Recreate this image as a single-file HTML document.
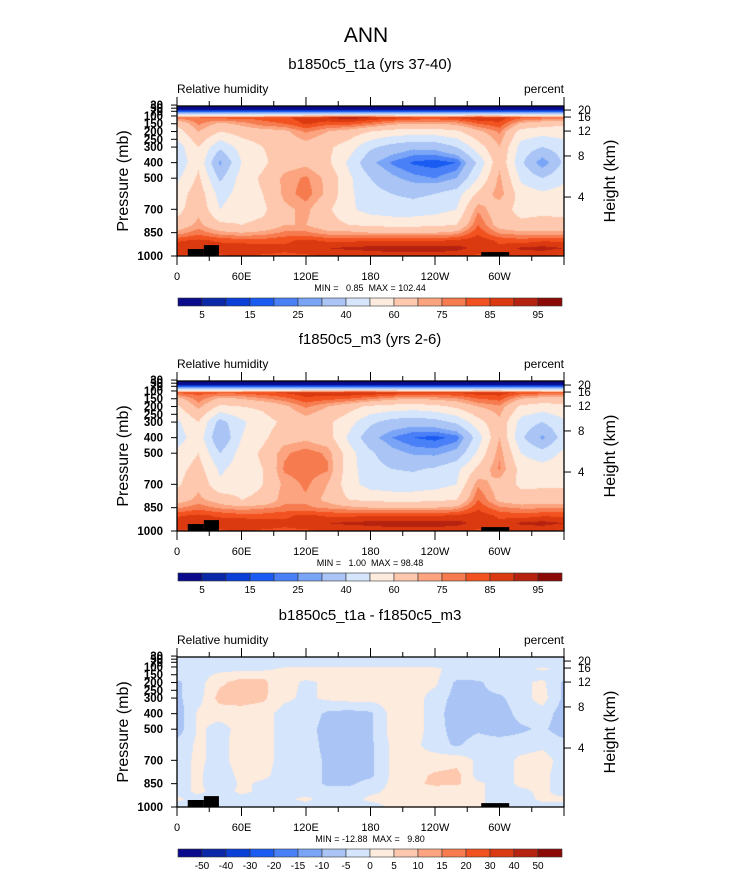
<!DOCTYPE html>
<html><head><meta charset="utf-8">
<style>
body{margin:0;background:#fff;}
#wrap{position:relative;width:733px;height:888px;overflow:hidden;background:#fff;font-family:"Liberation Sans",Arial,sans-serif;}
canvas{position:absolute;}
svg{position:absolute;left:0;top:0;}
text{font-family:"Liberation Sans",Arial,sans-serif;fill:#000;white-space:pre;}
</style></head>
<body>
<div id="wrap">
<svg id="ov" width="733" height="888"></svg>
</div>
<script>
// ---------- data ----------
const lons = [0,20,40,60,80,100,120,140,160,180,200,220,240,260,280,300,320,340,360];
const levels = [20,60,90,110,150,200,300,400,500,600,700,800,850,900,950,1000];
const rh1 = [
[3,3,3,3,3,3,3,3,3,3,3,3,3,3,3,3,3,3,3],
[4,4,4,4,4,4,4,4,4,4,4,4,4,4,4,4,4,4,4],
[45,45,45,45,45,45,45,45,45,45,45,45,45,45,45,45,45,45,45],
[78,80,82,82,82,84,88,90,93,90,88,85,84,86,90,88,82,80,78],
[62,76,68,72,78,80,86,82,82,78,72,70,70,72,80,84,68,64,62],
[55,70,60,64,66,68,76,70,66,60,56,55,55,58,68,76,56,54,55],
[45,60,42,54,60,64,66,62,55,42,36,32,33,40,55,70,46,40,45],
[42,58,28,50,58,66,68,62,48,32,24,19,17,20,42,68,42,25,42],
[48,62,38,54,62,72,76,68,52,40,32,27,25,30,50,72,48,40,48],
[54,66,46,54,60,72,78,68,52,44,40,38,40,45,62,74,55,52,54],
[56,68,50,56,58,68,72,62,52,46,44,44,46,50,74,64,57,57,56],
[64,72,62,60,62,70,70,64,60,58,57,57,58,60,80,66,62,64,64],
[72,78,72,70,72,76,76,72,72,70,70,70,70,72,84,74,72,72,72],
[84,86,84,82,82,84,86,84,84,84,84,84,84,86,88,84,82,84,84],
[90,88,88,90,88,86,88,90,91,92,93,93,93,92,88,86,91,92,90],
[84,84,84,86,84,84,84,86,86,86,87,87,87,86,84,84,86,86,84]];
const rh2 = [
[3,3,3,3,3,3,3,3,3,3,3,3,3,3,3,3,3,3,3],
[4,4,4,4,4,4,4,4,4,4,4,4,4,4,4,4,4,4,4],
[45,45,45,45,45,45,45,45,45,45,45,45,45,45,45,45,45,45,45],
[82,82,82,82,84,86,88,88,90,90,88,86,86,86,88,88,84,82,82],
[66,78,68,70,74,78,84,82,80,76,72,70,72,74,80,82,70,66,66],
[58,72,58,60,62,68,76,70,64,58,56,55,57,62,70,74,58,55,58],
[48,60,36,48,56,62,66,62,54,42,36,34,36,42,56,68,46,40,48],
[45,56,30,50,58,66,68,64,48,33,25,20,18,22,45,70,42,28,45],
[52,60,40,54,62,74,78,74,54,42,33,29,28,33,52,74,50,44,52],
[56,64,48,55,60,76,78,76,54,44,40,39,41,47,62,76,56,54,56],
[58,68,52,56,60,72,76,70,54,46,44,44,46,50,74,66,58,58,58],
[66,72,66,60,62,74,74,68,60,58,57,57,58,60,80,68,64,66,66],
[74,78,74,72,74,76,76,74,72,70,70,70,70,72,84,76,74,74,74],
[84,86,84,82,82,84,86,84,84,84,84,84,84,86,88,84,82,84,84],
[90,88,88,90,88,86,88,90,91,92,93,93,93,92,88,86,91,92,90],
[84,84,84,86,84,84,84,86,86,86,87,87,87,86,84,84,86,86,84]];
const rhDiff = [
[-2,-2,-2,-2,-2,-2,-2,-2,-2,-2,-2,-2,-2,-2,-2,-2,-2,-2,-2],
[-2,-2,-2,-2,-2,-2,-2,-2,-2,-2,-2,-2,-2,-2,-2,-2,-2,-2,-2],
[-2,-2,-2,-2,-2,-2,-2,-2,-2,-2,-2,-2,-2,-2,-2,-2,-2,-2,-2],
[-2,-2,-2,-2,-2,1,2,2,2,2,2,2,1,-2,-2,-2,-2,1,-2],
[-3,-2,1,3,4,3,2,2,2,2,2,2,1,-3,-2,-2,-2,-2,-3],
[-6,-2,4,7,6,2,-1,1,2,2,2,2,1,-6,-6,-2,-1,1,-6],
[-6,-2,7,7,6,1,-1,1,2,2,2,2,-2,-7,-6,-6,-2,2,-6],
[-8,1,2,3,2,-2,-2,-6,-7,-6,2,2,-2,-9,-7,-8,-3,-2,-8],
[-8,1,-2,2,2,-2,-3,-7,-7,-6,2,2,-2,-8,-6,-8,-6,-4,-8],
[-3,1,-2,3,2,-2,-2,-7,-7,-6,1,1,-2,-6,-2,-2,-2,-1,-3],
[-2,1,-2,3,2,-2,-2,-6,-6,-6,1,1,2,3,-1,-2,1,2,-2],
[-2,1,-4,2,1,-2,-2,-6,-7,-6,1,3,6,7,-2,-2,1,1,-2],
[-2,1,-4,1,-1,-2,-2,-6,-6,-3,1,4,6,6,1,-2,1,1,-2],
[-2,1,-2,1,-1,-2,-2,-3,-3,-1,1,2,2,1,1,-2,-1,1,-2],
[1,-2,-2,-2,-2,-1,1,-2,-2,1,1,1,2,1,1,-2,-2,1,1],
[-2,-2,-2,-2,-2,-2,-2,-2,-2,-2,1,1,1,1,1,-2,-2,-2,-2]];
const rhLevels = [5,10,15,20,25,30,40,50,60,70,75,80,85,90,95];
const rhLabels = ["5","15","25","40","60","75","85","95"];
const diffLevels = [-50,-40,-30,-20,-15,-10,-5,0,5,10,15,20,30,40,50];
const diffLabels = ["-50","-40","-30","-20","-15","-10","-5","0","5","10","15","20","30","40","50"];
const palette = ["#0a0a8c","#0a28a8","#0a3fd8","#1a5cf2","#4a80f7","#7aa4f5","#a9c4f5","#d5e5fb","#fdebdd","#fdc8ae","#fba47f","#f67b4f","#f2521f","#db3a10","#b52310","#8c0a05"];
// topography blocks
const topoLon0 = [10,25,283];
const topoLon1 = [25,39,309];
const topoP = [955,930,975];
const pressureTicks = [1000,850,700,500,400,300,250,200,150,100,70,50,30];
const lonTicks = [0,60,120,180,240,300];
const lonTickLabels = ["0","60E","120E","180","120W","60W"];
const heightTicks = ["4","8","12","16","20"];
const heightTickP = [621,357,197,107,62];
const panels = [
 {top:106, sub:"b1850c5_t1a (yrs 37-40)", data:rh1, lv:rhLevels, labs:rhLabels, lab:"rh", minmax:"MIN =   0.85  MAX = 102.44", cb:298},
 {top:381, sub:"f1850c5_m3 (yrs 2-6)", data:rh2, lv:rhLevels, labs:rhLabels, lab:"rh", minmax:"MIN =   1.00  MAX = 98.48", cb:573},
 {top:657, sub:"b1850c5_t1a - f1850c5_m3", data:rhDiff, lv:diffLevels, labs:diffLabels, lab:"diff", minmax:"MIN = -12.88  MAX =   9.80", cb:849}
];
// ---------- geometry ----------
const X0=177, X1=564, PH=150, PTOP=36;
const xOf = lon => X0 + lon/360*(X1-X0);
const yOf = (top,p) => top + (p-PTOP)/(1000-PTOP)*PH;
const NS="http://www.w3.org/2000/svg";
const svg=document.getElementById('ov');
function el(tag,attrs,txt){const e=document.createElementNS(NS,tag);for(const k in attrs)e.setAttribute(k,attrs[k]);if(txt!==undefined)e.textContent=txt;svg.appendChild(e);return e;}
function hex(c){return [parseInt(c.substr(1,2),16),parseInt(c.substr(3,2),16),parseInt(c.substr(5,2),16)];}
const palRGB=palette.map(hex);
function interp(data,lon,p){
 let i=0;while(i<lons.length-2&&lon>lons[i+1])i++;
 let j=0;while(j<levels.length-2&&p>levels[j+1])j++;
 const tx=Math.min(1,Math.max(0,(lon-lons[i])/(lons[i+1]-lons[i])));
 const ty=Math.min(1,Math.max(0,(p-levels[j])/(levels[j+1]-levels[j])));
 const a=data[j][i],b=data[j][i+1],c=data[j+1][i],d=data[j+1][i+1];
 return (a*(1-tx)+b*tx)*(1-ty)+(c*(1-tx)+d*tx)*ty;
}
function bin(lv,v){let k=0;while(k<lv.length&&v>=lv[k])k++;return k;}

let t=el('text',{x:366,y:42,'text-anchor':'middle','font-size':21});t.textContent='ANN';


panels.forEach((P,pi)=>{
 const cv=document.createElement('canvas');
 const W=X1-X0, H=PH;
 cv.width=W;cv.height=H;cv.style.left=X0+'px';cv.style.top=P.top+'px';
 
 
 document.getElementById('wrap').insertBefore(cv,svg);
 const ctx=cv.getContext('2d');const img=ctx.createImageData(W,H);
 for(let y=0;y<H;y++){const p=PTOP+(y+0.5)/H*(1000-PTOP);
  for(let x=0;x<W;x++){const lon=(x+0.5)/W*360;
   const v=interp(P.data,lon,p);const c=palRGB[bin(P.lv,v)];
   const o=(y*W+x)*4;img.data[o]=c[0];img.data[o+1]=c[1];img.data[o+2]=c[2];img.data[o+3]=255;}}
 ctx.putImageData(img,0,0);
 const top=P.top,bot=top+PH;
 for(let k=0;k<topoP.length;k++){
  const r=el('rect',{x:xOf(topoLon0[k]),y:yOf(top,topoP[k]),width:xOf(topoLon1[k])-xOf(topoLon0[k]),height:bot-yOf(top,topoP[k]),fill:'#000'});
  
 }
 let f=el('rect',{x:X0,y:top,width:X1-X0,height:PH,fill:'none',stroke:'#000','stroke-width':1.3});
 
 let s=el('text',{x:370,y:top-37,'text-anchor':'middle','font-size':15},P.sub);
 
 s=el('text',{x:X0,y:top-13,'font-size':12},'Relative humidity');
 
 s=el('text',{x:X1,y:top-13,'font-size':12,'text-anchor':'end'},'percent');
 
 for(let lon=0;lon<=360;lon+=30){const x=xOf(lon);const L=lon%60===0?9:5;
  el('line',{x1:x,y1:top,x2:x,y2:top-L,stroke:'#000','stroke-width':1});
  el('line',{x1:x,y1:bot,x2:x,y2:bot+L,stroke:'#000','stroke-width':1});}
 lonTicks.forEach((lon,k)=>{const tt=el('text',{x:xOf(lon),y:bot+24,'text-anchor':'middle','font-size':11},lonTickLabels[k]);
  });
 pressureTicks.forEach(p=>{const y=yOf(top,p);
  el('line',{x1:X0,y1:y,x2:X0-6,y2:y,stroke:'#000','stroke-width':1});
  const tt=el('text',{x:X0-14,y:y+4,'text-anchor':'end','font-size':11.5,'font-weight':'bold'},String(p));
  });
 heightTickP.forEach((p,k)=>{const y=yOf(top,p);
  el('line',{x1:X1,y1:y,x2:X1+7,y2:y,stroke:'#000','stroke-width':1});
  const tt=el('text',{x:X1+14,y:y+4,'font-size':11.5},heightTicks[k]);
  });
 let a=el('text',{x:0,y:0,'font-size':16,'text-anchor':'middle',transform:`translate(128,${top+75}) rotate(-90)`},'Pressure (mb)');
 
 a=el('text',{x:0,y:0,'font-size':16,'text-anchor':'middle',transform:`translate(615,${top+75}) rotate(-90)`},'Height (km)');
 
 a=el('text',{x:370,y:bot+35,'text-anchor':'middle','font-size':9,'xml:space':'preserve'},P.minmax);
 
 const cbx=178,cbw=24;
 palette.forEach((c,k)=>{const r=el('rect',{x:cbx+k*cbw,y:P.cb,width:cbw,height:8,fill:c,stroke:'#333','stroke-width':0.6});
  });
 P.labs.forEach((lb,k)=>{const idx=P.lab==='rh'?(2*k+1):(k+1);
  const tt=el('text',{x:cbx+idx*cbw,y:P.cb+20,'text-anchor':'middle','font-size':10},lb);
  });
});
</script>
</body></html>
